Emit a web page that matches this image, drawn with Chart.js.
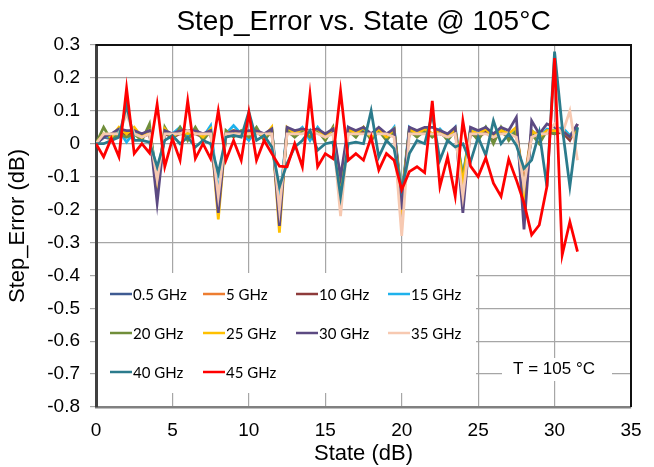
<!DOCTYPE html>
<html lang="en">
<head>
    <meta charset="UTF-8">
    <title>Step_Error vs. State @ 105°C</title>
    <style>
        html, body { margin: 0; padding: 0; background: white; }
        canvas { display: block; }
    </style>
    <script src="https://cdn.jsdelivr.net/npm/chart.js"></script>
</head>
<body>
    <canvas id="stepChart" width="654" height="467"></canvas>
    <script>
        // attenuator state (dB)
        var states = [
            0, 0.5, 1, 1.5, 2, 2.5, 3, 3.5,
            4, 4.5, 5, 5.5, 6, 6.5, 7, 7.5,
            8, 8.5, 9, 9.5, 10, 10.5, 11, 11.5,
            12, 12.5, 13, 13.5, 14, 14.5, 15, 15.5,
            16, 16.5, 17, 17.5, 18, 18.5, 19, 19.5,
            20, 20.5, 21, 21.5, 22, 22.5, 23, 23.5,
            24, 24.5, 25, 25.5, 26, 26.5, 27, 27.5,
            28, 28.5, 29, 29.5, 30, 30.5, 31, 31.5
        ];

        // step error (dB) per frequency
        var err05 = [
            0, 0.02, 0.02, 0.03, 0.03, 0.035, 0.02, 0.035,
            -0.12, 0.035, 0.02, 0.035, 0.025, 0.035, 0.02, 0.04,
            -0.17, 0.03, 0.035, 0.03, 0.025, 0.04, 0.02, 0.04,
            -0.2, 0.04, 0.03, 0.04, 0.03, 0.04, 0.025, 0.04,
            -0.13, 0.04, 0.03, 0.04, 0.025, 0.04, 0.02, 0.04,
            -0.17, 0.04, 0.03, 0.04, 0.03, 0.035, 0.02, 0.04,
            -0.12, 0.035, 0.03, 0.04, 0.02, 0.04, 0.025, 0.04,
            -0.14, 0.035, 0.02, 0.04, 0.035, 0.04, 0.02, 0.045
        ];
        var err5 = [
            0, 0.025, 0.02, 0.035, 0.025, 0.04, 0.025, 0.035,
            -0.12, 0.04, 0.025, 0.04, 0.03, 0.04, 0.02, 0.04,
            -0.18, 0.03, 0.04, 0.03, 0.03, 0.04, 0.025, 0.04,
            -0.2, 0.04, 0.03, 0.04, 0.03, 0.04, 0.03, 0.04,
            -0.15, 0.04, 0.035, 0.04, 0.03, 0.045, 0.025, 0.04,
            -0.18, 0.04, 0.035, 0.045, 0.03, 0.04, 0.025, 0.04,
            -0.13, 0.04, 0.03, 0.04, 0.025, 0.04, 0.03, 0.04,
            -0.12, 0.035, 0.03, 0.04, 0.04, 0.04, 0.025, 0.05
        ];
        var err10 = [
            0, 0.02, 0.015, 0.03, 0.03, 0.03, 0.02, 0.03,
            -0.14, 0.03, 0.02, 0.03, 0.03, 0.03, 0.02, 0.035,
            -0.19, 0.025, 0.03, 0.025, 0.03, 0.035, 0.02, 0.035,
            -0.22, 0.035, 0.025, 0.035, 0.03, 0.035, 0.02, 0.035,
            -0.14, 0.035, 0.03, 0.035, 0.02, 0.035, 0.02, 0.035,
            -0.17, 0.035, 0.025, 0.035, 0.03, 0.03, 0.02, 0.035,
            -0.12, 0.03, 0.02, 0.035, 0.015, 0.035, 0.02, 0.03,
            -0.15, 0.03, 0.02, 0.035, 0.03, 0.035, 0.01, 0.06
        ];
        var err15 = [
            0, 0.02, 0.02, 0.04, 0.005, 0.035, 0.02, 0.04,
            -0.1, 0.035, 0.03, 0.05, 0.02, 0.045, 0.02, 0.055,
            -0.15, 0.03, 0.055, 0.03, 0.01, 0.045, 0.02, 0.045,
            -0.19, 0.045, 0.03, 0.05, 0.01, 0.05, 0.02, 0.045,
            -0.16, 0.05, 0.03, 0.045, 0.02, 0.045, 0.02, 0.05,
            -0.16, 0.05, 0.03, 0.045, 0.025, 0.045, 0.02, 0.05,
            -0.1, 0.045, 0.03, 0.05, 0.02, 0.045, 0.025, 0.045,
            -0.2, 0.04, 0.02, 0.045, 0.04, 0.05, 0.025, 0.05
        ];
        var err20 = [
            0, 0.05, 0.01, 0.03, 0.02, 0.03, 0.01, 0.06,
            -0.13, 0.05, 0.01, 0.05, 0.01, 0.05, 0.01, 0.04,
            -0.19, 0.04, 0.02, 0.04, 0.02, 0.05, 0.01, 0.04,
            -0.22, 0.04, 0.02, 0.04, 0.02, 0.04, 0.01, 0.05,
            -0.12, 0.04, 0.02, 0.05, 0.01, 0.04, 0.01, 0.04,
            -0.16, 0.04, 0.02, 0.04, 0.02, 0.04, 0.01, 0.04,
            -0.1, 0.04, 0.01, 0.05, 0, 0.05, 0.01, 0.04,
            -0.14, 0.03, 0, 0.04, 0.03, 0.04, 0.02, 0.05
        ];
        var err25 = [
            0, 0.03, 0.02, 0.05, 0.03, 0.05, 0.02, 0.04,
            -0.15, 0.045, 0.02, 0.04, 0.03, 0.04, 0.02, 0.045,
            -0.23, 0.03, 0.04, 0.03, 0.03, 0.04, 0.02, 0.05,
            -0.27, 0.05, 0.03, 0.045, 0.03, 0.045, 0.02, 0.045,
            -0.14, 0.045, 0.03, 0.05, 0.02, 0.045, 0.02, 0.045,
            -0.18, 0.045, 0.03, 0.045, 0.03, 0.04, 0.02, 0.045,
            -0.12, 0.04, 0.03, 0.045, 0.02, 0.04, 0.03, 0.05,
            -0.17, 0.04, 0.02, 0.04, 0.04, 0.04, 0.02, 0.04
        ];
        var err30 = [
            0, 0.02, 0.03, 0.045, 0.04, 0.04, 0.03, 0.04,
            -0.18, 0.04, 0.03, 0.04, 0.04, 0.04, 0.03, 0.04,
            -0.21, 0.03, 0.04, 0.035, 0.04, 0.04, 0.03, 0.045,
            -0.25, 0.05, 0.04, 0.045, 0.04, 0.045, 0.03, 0.045,
            -0.1, 0.05, 0.04, 0.05, 0.03, 0.05, 0.03, 0.045,
            -0.2, 0.05, 0.04, 0.05, 0.05, 0.04, 0.03, 0.05,
            -0.21, 0.05, 0.04, 0.05, 0.03, 0.05, 0.04, 0.08,
            -0.26, 0.07, 0.03, 0.06, 0.05, 0.04, 0.02, 0.06
        ];
        var err35 = [
            0, 0.03, 0.03, 0.03, 0.09, 0.03, 0.02, 0.03,
            -0.11, 0.03, 0.03, 0.03, 0.04, 0.03, 0.03, 0.03,
            -0.16, 0.03, 0.03, 0.03, 0.03, 0.03, 0.03, 0.03,
            -0.2, 0.03, 0.03, 0.03, 0.04, 0.03, 0.02, 0.03,
            -0.22, 0.03, 0.03, 0.03, 0.03, 0.03, 0.03, 0.02,
            -0.28, 0.03, 0.03, 0.03, 0.03, 0.03, 0.02, 0.03,
            -0.16, 0.03, 0.03, 0.03, 0.02, 0.03, 0.03, 0.02,
            -0.13, 0.02, 0.03, 0.03, 0.06, 0.03, 0.1, -0.05
        ];
        var err40 = [
            0, 0, 0.01, 0.02, 0.118, 0.01, 0.01, 0.005,
            -0.07, 0.01, 0.025, 0, 0.02, -0.01, 0.01, 0,
            -0.09, 0.02, 0.025, 0.02, 0.097, 0.01, 0.025, -0.01,
            -0.13, -0.06, -0.01, 0.01, 0.04, -0.02, 0, 0.005,
            -0.16, 0, 0.005, 0, 0.1, -0.04, 0.01, -0.015,
            -0.14, -0.03, 0.01, 0, 0.09, -0.05, 0.01, -0.01,
            0, -0.055, 0.02, -0.035, 0.07, 0, 0.03, -0.005,
            -0.075, -0.05, 0.035, -0.13, 0.28, 0.05, -0.13, 0.05
        ];
        var err45 = [
            0, -0.04, 0.016, -0.04, 0.168, -0.03, 0, -0.028,
            0.12, -0.07, 0.015, -0.05, 0.13, -0.045, 0, -0.045,
            0.1, -0.05, 0.01, -0.05, 0.095, -0.05, 0.01, -0.03,
            -0.068, -0.07, 0, -0.07, 0.15, -0.07, -0.03, -0.045,
            0.16, -0.05, -0.03, -0.05, 0.02, -0.08, -0.03, -0.05,
            -0.14, -0.085, -0.07, -0.088, 0.13, -0.13, -0.04, -0.16,
            0.07, -0.068, -0.1, -0.043, -0.12, -0.16, -0.047, -0.11,
            -0.18, -0.277, -0.247, -0.13, 0.26, -0.338, -0.237, -0.328
        ];

        var seriesNames = ['0.5 GHz', '5 GHz', '10 GHz', '15 GHz', '20 GHz',
                           '25 GHz', '30 GHz', '35 GHz', '40 GHz', '45 GHz'];
        var seriesValues = [err05, err5, err10, err15, err20,
                            err25, err30, err35, err40, err45];
        var seriesColors = ['#3F5B92', '#ED7D31', '#8E3B3B', '#1FB2EC', '#708E3A',
                            '#FFC000', '#5C4A82', '#F7C9B1', '#2B7B8C', '#FF0000'];

        var datasets = seriesValues.map(function (vals, i) {
            return {
                label: seriesNames[i],
                data: states.map(function (s, j) { return { x: s, y: vals[j] }; }),
                borderColor: seriesColors[i],
                backgroundColor: seriesColors[i],
                borderWidth: 2.75,
                pointRadius: 0,
                tension: 0,
                fill: false,
                // later series on top, like the spreadsheet
                order: seriesValues.length - i
            };
        });

        // legend in a white box inside the plot + temperature note
        var insideLegend = {
            id: 'insideLegend',
            beforeDatasetsDraw: function (chart) {
                var ctx = chart.ctx;
                var area = chart.chartArea;
                ctx.save();
                ctx.fillStyle = 'white';
                ctx.fillRect(area.left + 2, 273, 378, 120);
                ctx.fillRect(502, 358, 110, 23);

                var cols = [110, 203, 296, 388];
                var rows = [294, 333, 372];
                ctx.font = '15px Lato, "Open Sans", sans-serif';
                ctx.textBaseline = 'middle';
                ctx.textAlign = 'left';
                chart.data.datasets.forEach(function (ds, i) {
                    var x = cols[i % 4];
                    var y = rows[Math.floor(i / 4)];
                    ctx.strokeStyle = ds.borderColor;
                    ctx.lineWidth = 2.5;
                    ctx.beginPath();
                    ctx.moveTo(x, y);
                    ctx.lineTo(x + 22, y);
                    ctx.stroke();
                    ctx.fillStyle = '#000';
                    ctx.fillText(ds.label, x + 23, y + 1);
                });

                ctx.font = '17px "Liberation Sans", Arial, sans-serif';
                ctx.textAlign = 'center';
                ctx.fillText('T = 105 °C', 554, 369);
                ctx.restore();
            },
            afterDraw: function (chart) {
                var ctx = chart.ctx;
                var area = chart.chartArea;
                ctx.save();
                ctx.strokeStyle = '#111';
                ctx.lineWidth = 2;
                ctx.beginPath();
                ctx.moveTo(area.left, area.top);
                ctx.lineTo(area.right, area.top);
                ctx.lineTo(area.right, area.bottom);
                ctx.stroke();
                ctx.restore();
            }
        };

        var fontFamily = '"Liberation Sans", Arial, sans-serif';

        new Chart(document.getElementById('stepChart'), {
            type: 'line',
            data: { datasets: datasets },
            plugins: [insideLegend],
            options: {
                responsive: false,
                animation: false,
                devicePixelRatio: 1,
                layout: { padding: { left: 0, right: 23, top: 0, bottom: 0 } },
                plugins: {
                    legend: { display: false },
                    tooltip: { enabled: false },
                    title: {
                        display: true,
                        fullSize: false,
                        text: 'Step_Error vs. State @ 105°C',
                        color: '#000',
                        font: { family: fontFamily, size: 28, weight: 'normal' },
                        padding: { top: 5, bottom: 6.4 }
                    }
                },
                scales: {
                    x: {
                        type: 'linear',
                        min: 0,
                        max: 35,
                        ticks: {
                            stepSize: 5,
                            color: '#000',
                            padding: 12,
                            font: { family: fontFamily, size: 19 }
                        },
                        grid: { color: '#A6A6A6', lineWidth: 1.2, drawTicks: false },
                        border: { color: '#808080', width: 2.5 },
                        title: {
                            display: true,
                            text: 'State (dB)',
                            color: '#000',
                            font: { family: fontFamily, size: 22 },
                            padding: { top: 0, bottom: 0 }
                        },
                        afterFit: function (s) { s.height = 60; }
                    },
                    y: {
                        min: -0.8,
                        max: 0.3,
                        ticks: {
                            stepSize: 0.1,
                            color: '#000',
                            padding: 10,
                            font: { family: fontFamily, size: 19 },
                            callback: function (v) { return String(Math.round(v * 10) / 10); }
                        },
                        grid: { color: '#A6A6A6', lineWidth: 1.2, tickLength: 6 },
                        border: { color: '#404040', width: 3 },
                        title: {
                            display: true,
                            text: 'Step_Error (dB)',
                            color: '#000',
                            font: { family: fontFamily, size: 22 },
                            padding: { top: 5, bottom: 0 }
                        },
                        afterFit: function (s) { s.width = 96; }
                    }
                }
            }
        });
    </script>
</body>
</html>
